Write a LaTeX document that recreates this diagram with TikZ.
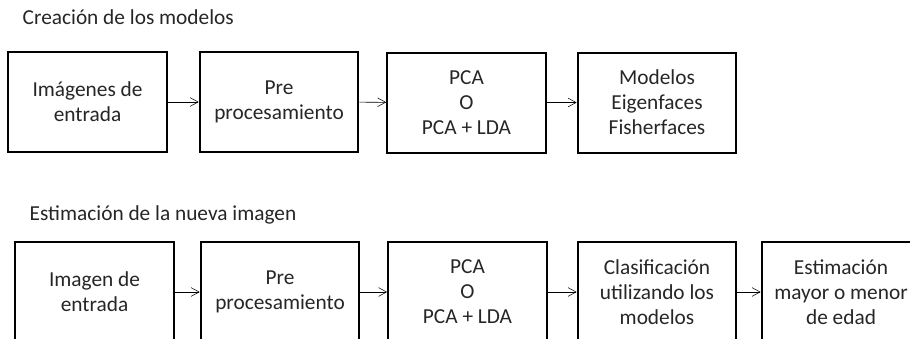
\documentclass[tikz,border=0pt]{standalone}
\usepackage{fontspec}
\setmainfont{Carlito}
\usetikzlibrary{arrows.meta}

\begin{document}
\begin{tikzpicture}[x=0.75pt, y=-0.75pt, >={Straight Barb[length=6pt, width=6.5pt]},
	every node/.style={font=\fontsize{16}{18.75}\selectfont, text=black!85},
	stagebox/.style={draw=black, line width=1.5pt, minimum width=119pt, minimum height=75pt, align=center, inner sep=0pt},
	title/.style={anchor=base west}]
	\useasboundingbox (0,0) rectangle (910,339);
	\clip (0,0) rectangle (910,339);
	\node[title] (t1) at (18,24) {Creación de los modelos};
	\node[stagebox] (b1) at (87.5,102) {Imágenes de\\entrada};
	\node[stagebox] (b2) at (279,102) {Pre\\procesamiento};
	\node[stagebox] (b3) at (466.5,102.5) {PCA\\O\\PCA + LDA};
	\node[stagebox] (b4) at (657,102.5) {Modelos\\Eigenfaces\\Fisherfaces};
	\draw[->] (b1) -- (b2);
	\draw[->] (b2) -- (b3);
	\draw[->] (b3) -- (b4);
	\node[title] (t2) at (25,220) {Estimación de la nueva imagen};
	\node[stagebox] (c1) at (94.5,292) {Imagen de\\entrada};
	\node[stagebox] (c2) at (280,292) {Pre\\procesamiento};
	\node[stagebox] (c3) at (467.5,292) {PCA\\O\\PCA + LDA};
	\node[stagebox] (c4) at (657,292) {Clasificación\\utilizando los\\modelos};
	\node[stagebox] (c5) at (841,292) {Estimación\\mayor o menor\\de edad};
	\draw[->] (c1) -- (c2);
	\draw[->] (c2) -- (c3);
	\draw[->] (c3) -- (c4);
	\draw[->] (c4) -- (c5);
\end{tikzpicture}
\end{document}
